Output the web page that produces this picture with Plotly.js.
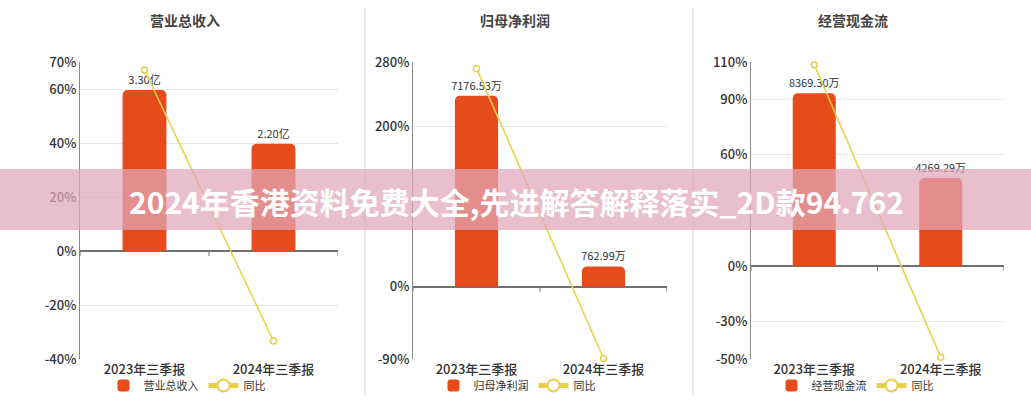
<!DOCTYPE html>
<html><head><meta charset="utf-8">
<script src="https://cdn.plot.ly/plotly-3.0.1.min.js"></script>
<style>html,body{margin:0;padding:0;background:#fff}#chart{width:1031px;height:400px}</style>
</head><body><div id="chart"></div>
<script>
// ---- data ----
const categories = ['2023年三季报', '2024年三季报'];
const panelTitles = ['营业总收入', '归母净利润', '经营现金流'];
const yoyName = '同比';

const revenue = [3.30, 2.20];            // 亿
const revenueLabels = ['3.30亿', '2.20亿'];
const revenueYoY = [67.0, -33.33];       // %

const netProfit = [7176.53, 762.99];     // 万
const netProfitLabels = ['7176.53万', '762.99万'];
const netProfitYoY = [272.0, -89.37];    // %

const cashFlow = [8369.30, 4269.29];     // 万
const cashFlowLabels = ['8369.30万', '4269.29万'];
const cashFlowYoY = [108.5, -48.99];     // %

const yoyTicks1 = [70, 60, 40, 20, 0, -20, -40];
const yoyTicks2 = [280, 200, 0, -90];
const yoyTicks3 = [110, 90, 60, 0, -30, -50];

const bannerText = '2024年香港资料免费大全,先进解答解释落实_2D款94.762';

// ---- styling / layout ----
const W = 1031, H = 400;
const FONT = '"Noto Sans CJK SC", "Noto Sans", sans-serif';
const BAR_COLOR = '#E54B1B';
const LINE_COLOR = '#E9CF45';
const px = v => v / W, py = v => 1 - v / H;
const yDomain = [py(359), py(62)];

const panels = [
  {vals: revenue, labels: revenueLabels, yoy: revenueYoY, ticks: yoyTicks1,
   dom: [px(80), px(338)], yoyRange: [-40, 70], barRange: [-2.213, 3.874], titleX: 185},
  {vals: netProfit, labels: netProfitLabels, yoy: netProfitYoY, ticks: yoyTicks2,
   dom: [px(413), px(667)], yoyRange: [-90, 280], barRange: [-2714, 8447], titleX: 515},
  {vals: cashFlow, labels: cashFlowLabels, yoy: cashFlowYoY, ticks: yoyTicks3,
   dom: [px(751), px(1004)], yoyRange: [-50, 110], barRange: [-4490, 9879], titleX: 853}
];

const traces = [];
const layout = {
  width: W, height: H,
  margin: {l: 0, r: 0, t: 0, b: 0},
  paper_bgcolor: '#fff', plot_bgcolor: 'rgba(0,0,0,0)',
  font: {family: FONT, color: '#333'},
  showlegend: true,
  barcornerradius: 5,
  annotations: [], shapes: []
};

panels.forEach((p, i) => {
  const n = i + 1;
  const xa = n === 1 ? 'x' : 'x' + n;
  const yb = n === 1 ? 'y' : 'y' + n;       // bar axis (hidden)
  const yl = 'y' + (n + 3);                 // percent axis (visible)
  const lg = n === 1 ? 'legend' : 'legend' + n;

  traces.push({
    type: 'bar', x: categories, y: p.vals, xaxis: xa, yaxis: yb,
    name: panelTitles[i], legend: lg, width: 0.34,
    marker: {color: BAR_COLOR},
    text: p.labels, textposition: 'outside', cliponaxis: false, constraintext: 'none',
    textfont: {size: 11, color: '#333', family: FONT},
    hoverinfo: 'skip'
  });
  traces.push({
    type: 'scatter', mode: 'lines+markers', x: categories, y: p.yoy,
    xaxis: xa, yaxis: yl, name: yoyName, legend: lg, cliponaxis: false,
    line: {color: LINE_COLOR, width: 1.5},
    marker: {symbol: 'circle', size: 6, color: '#fff', line: {color: LINE_COLOR, width: 1.5}},
    hoverinfo: 'skip'
  });

  layout['xaxis' + (n === 1 ? '' : n)] = {
    domain: p.dom, anchor: yb, type: 'category', range: [-0.5, 1.5],
    showline: false, showgrid: false, zeroline: false, ticks: '', automargin: false,
    ticklabelstandoff: 1,
    tickfont: {size: 13, color: '#333', family: FONT, weight: 500}, fixedrange: true
  };
  layout['yaxis' + (n === 1 ? '' : n)] = {
    domain: yDomain, anchor: xa, range: p.barRange, visible: false, fixedrange: true
  };
  layout['yaxis' + (n + 3)] = {
    overlaying: yb, anchor: xa, side: 'left', range: p.yoyRange, automargin: false,
    tickmode: 'array', tickvals: p.ticks, ticktext: p.ticks.map(t => t + '%'),
    showgrid: true, gridcolor: '#e8e8e8', gridwidth: 1,
    showline: true, linecolor: '#8a8a8a', linewidth: 1,
    zeroline: true, zerolinecolor: '#707070', zerolinewidth: 2,
    ticks: '', tickfont: {size: 13, color: '#333', family: FONT, weight: 500}, fixedrange: true
  };
  layout[lg] = {
    orientation: 'h', xref: 'paper', yref: 'paper',
    x: px(p.titleX + 2), y: 0, xanchor: 'center', yanchor: 'bottom',
    font: {size: 11, color: '#333', family: FONT}, bgcolor: 'rgba(0,0,0,0)',
    itemsizing: 'constant', tracegroupgap: 0, itemwidth: 30
  };
  layout.annotations.push({
    text: panelTitles[i], xref: 'paper', yref: 'paper', x: px(p.titleX), y: py(20),
    xanchor: 'center', yanchor: 'middle', showarrow: false,
    font: {size: 14, color: '#444', family: FONT, weight: 'bold'}
  });
  // small ticks on the zero line at category boundaries
  [-0.5, 0.5, 1.5].forEach(b => {
    layout.shapes.push({
      type: 'line', xref: xa, yref: yl, x0: b, x1: b,
      ysizemode: 'pixel', yanchor: 0, y0: 0, y1: -5,
      line: {color: '#707070', width: 1}, layer: 'above'
    });
  });
});

// panel dividers
[365, 693].forEach(xv => {
  layout.shapes.push({
    type: 'line', xref: 'paper', yref: 'paper', x0: px(xv), x1: px(xv), y0: py(395), y1: py(8),
    line: {color: '#d5d5d5', width: 1}, layer: 'below'
  });
});

// overlay banner
layout.shapes.push({
  type: 'rect', xref: 'paper', yref: 'paper', x0: 0, x1: 1, y0: py(230), y1: py(169),
  fillcolor: 'rgba(226,166,186,0.72)', line: {width: 0}, layer: 'above'
});
layout.annotations.push({
  text: '<b>' + bannerText + '</b>', xref: 'paper', yref: 'paper', x: px(516), y: py(201),
  xanchor: 'center', yanchor: 'middle', showarrow: false,
  font: {size: 30, color: '#fff', family: FONT}
});

Plotly.newPlot('chart', traces, layout, {staticPlot: true, displayModeBar: false});
</script>
</body></html>
